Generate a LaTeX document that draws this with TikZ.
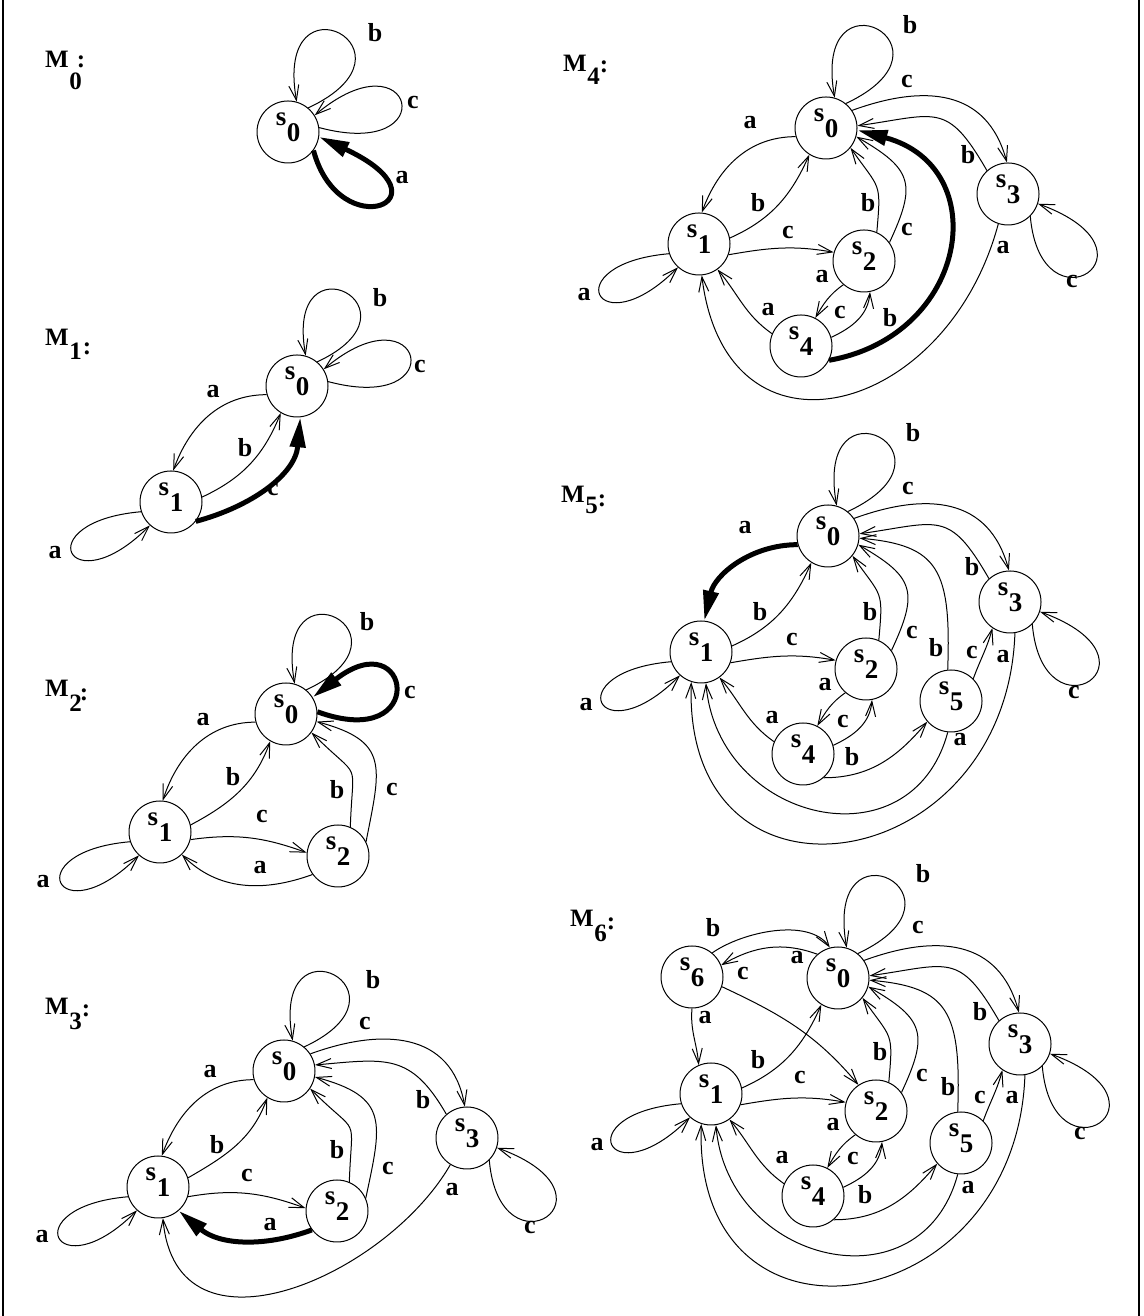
\documentclass[tikz,border=0pt]{standalone}
\usepackage{fontspec}
\setmainfont{Liberation Serif}[BoldFont={Liberation Serif Bold}]
\usetikzlibrary{arrows.meta}
\newcommand\stl[1]{\raisebox{0pt}[12.5pt][25pt]{s\kern0.5pt\raisebox{-16pt}{#1}}}
\newcommand\mlab[4]{M\kern0.5pt\raisebox{-#2}{#1}\kern#4\raisebox{-#3}{:}}
\tikzset{
  stt/.style={circle,draw,line width=1pt,minimum size=62pt,inner sep=0pt,font=\fontsize{27}{27}\selectfont\bfseries},
  lbl/.style={font=\fontsize{26}{26}\selectfont\bfseries,inner sep=0pt},
  ttl/.style={font=\fontsize{25}{25}\selectfont\bfseries,inner sep=0pt,anchor=base west},
  ed/.style={line width=1pt,-{Straight Barb[length=15pt,width=10pt]}},
  thk/.style={line width=5pt,-{Triangle[length=30pt,width=15pt]}},
  frm/.style={line width=2pt},
}
\newcommand\rcommon[1]{%
 \node[stt] (#1s0) at (0,0) {\stl0};
 \node[stt] (#1s1) at (-127,-116) {\stl1};
 \node[stt] (#1s2) at (38,-133) {\stl2};
 \node[stt] (#1s3) at (182,-66) {\stl3};
 \node[stt] (#1s4) at (-25,-218) {\stl4};
 \draw[ed] (#1s0.51) .. controls +(25:135) and +(100:135) .. (#1s0.74);
 \draw[ed] (#1s0.34) to[out=20,in=105,looseness=1.2] (#1s3.92);
 \draw[ed] (#1s3.132) to[out=120,in=8,looseness=1.5] (#1s0.4);
 \draw[ed] (#1s1.11) to[out=24,in=246] (#1s0.238);
 \draw[ed] (#1s1.-20) to[out=10,in=170] (#1s2.164);
 \draw[ed] (#1s2.66) to[out=85,in=-55,looseness=1.5] (#1s0.-39);
 \draw[ed] (#1s2.36) to[out=65,in=-30,looseness=1.5] (#1s0.-16);
 \draw[ed] (#1s2.229) to[out=215,in=60] (#1s4.63);
 \draw[ed] (#1s4.16) to[out=25,in=265] (#1s2.-79);
 \draw[ed] (#1s4.157) to[out=145,in=-50] (#1s1.-54);
 \draw[ed] (#1s1.198) .. controls +(185:115) and +(225:115) .. (#1s1.228);
 \draw[ed] (#1s3.-45) .. controls +(-85:120) and +(-20:140) .. (#1s3.-18);
}
\begin{document}
\begin{tikzpicture}[x=1pt,y=1pt]
\useasboundingbox (0,0) rectangle (1143,1316);
\coordinate (fl1) at (3,0); \coordinate (fl2) at (3,1316);
\coordinate (fr1) at (1139,0); \coordinate (fr2) at (1139,1316);
\draw[frm] (fl1) -- (fl2);
\draw[frm] (fr1) -- (fr2);
% titles
\node[ttl] (t0) at (45,1248) {\mlab{0}{22pt}{0pt}{-5pt}};
\node[ttl] (t1) at (45,970) {\mlab{1}{14pt}{9pt}{1pt}};
\node[ttl] (t2) at (45,619) {\mlab{2}{15pt}{4pt}{-2pt}};
\node[ttl] (t3) at (45,301) {\mlab{3}{15pt}{2pt}{0pt}};
\node[ttl] (t4) at (563,1244) {\mlab{4}{13pt}{1pt}{0pt}};
\node[ttl] (t5) at (561,813) {\mlab{5}{11pt}{4pt}{0pt}};
\node[ttl] (t6) at (570,389) {\mlab{6}{15pt}{3pt}{0pt}};
% ---------------- M0
\begin{scope}[shift={(288,1184)}]
 \node[stt] (m0s0) at (0,0) {\stl0};
 \draw[ed] (m0s0.50) .. controls +(25:135) and +(100:135) .. (m0s0.74);
 \draw[ed] (m0s0.8) .. controls +(-15:130) and +(40:130) .. (m0s0.32);
 \draw[thk] (m0s0.-36) .. controls +(-75:100) and +(-25:150) .. (m0s0.-9);
 \node[lbl] (m0l1) at (87,99) {b};
 \node[lbl] (m0l2) at (125,29) {c};
 \node[lbl] (m0l3) at (114,-46) {a};
\end{scope}
% ---------------- M1
\begin{scope}[shift={(297,930)}]
 \node[stt] (m1s0) at (0,0) {\stl0};
 \node[stt] (m1s1) at (-126,-116) {\stl1};
 \draw[ed] (m1s0.50) .. controls +(25:125) and +(100:125) .. (m1s0.74);
 \draw[ed] (m1s0.8) .. controls +(-15:130) and +(40:130) .. (m1s0.32);
 \draw[ed] (m1s0.196) to[out=180,in=70] (m1s1.86);
 \draw[ed] (m1s1.9) to[out=25,in=248] (m1s0.239);
 \draw[thk] (m1s1.-38) to[out=15,in=265] (m1s0.-84);
 \draw[ed] (m1s1.198) .. controls +(185:115) and +(225:115) .. (m1s1.228);
 \node[lbl] (m1l1) at (83,88) {b};
 \node[lbl] (m1l2) at (123,19) {c};
 \node[lbl] (m1l3) at (-84,-6) {a};
 \node[lbl] (m1l4) at (-52,-62) {b};
 \node[lbl] (m1l5) at (-24,-104) {c};
 \node[lbl] (m1l6) at (-242,-167) {a};
\end{scope}
% ---------------- M2
\begin{scope}[shift={(286,602)}]
 \node[stt] (m2s0) at (0,0) {\stl0};
 \node[stt] (m2s1) at (-126,-118) {\stl1};
 \node[stt] (m2s2) at (52,-142) {\stl2};
 \draw[ed] (m2s0.50) .. controls +(25:130) and +(100:130) .. (m2s0.74);
 \draw[thk] (m2s0.4) .. controls +(-20:120) and +(38:125) .. (m2s0.32);
 \draw[ed] (m2s0.195) to[out=180,in=72] (m2s1.85);
 \draw[ed] (m2s1.13) to[out=28,in=250] (m2s0.240);
 \draw[ed] (m2s1.-14) to[out=8,in=160] (m2s2.174);
 \draw[ed] (m2s2.216) to[out=200,in=-45] (m2s1.-46);
 \draw[ed] (m2s2.67) to[out=88,in=-45,looseness=1.8] (m2s0.-36);
 \draw[ed] (m2s2.27) to[out=79,in=-15,looseness=1.5] (m2s0.-14);
 \draw[ed] (m2s1.198) .. controls +(185:115) and +(225:115) .. (m2s1.228);
 \node[lbl] (m2l1) at (81,92) {b};
 \node[lbl] (m2l2) at (124,21) {c};
 \node[lbl] (m2l3) at (-83,-6) {a};
 \node[lbl] (m2l4) at (-53,-63) {b};
 \node[lbl] (m2l5) at (-24,-103) {c};
 \node[lbl] (m2l6) at (-26,-154) {a};
 \node[lbl] (m2l7) at (51,-76) {b};
 \node[lbl] (m2l8) at (106,-76) {c};
 \node[lbl] (m2l9) at (-243,-168) {a};
\end{scope}
% ---------------- M3
\begin{scope}[shift={(284,245)}]
 \node[stt] (m3s0) at (0,0) {\stl0};
 \node[stt] (m3s1) at (-126,-116) {\stl1};
 \node[stt] (m3s2) at (53,-140) {\stl2};
 \node[stt] (m3s3) at (183,-67) {\stl3};
 \draw[ed] (m3s0.50) .. controls +(25:130) and +(100:130) .. (m3s0.74);
 \draw[ed] (m3s0.33) to[out=20,in=100,looseness=1.2] (m3s3.94);
 \draw[ed] (m3s3.131) to[out=120,in=5,looseness=1.3] (m3s0.11);
 \draw[ed] (m3s0.196) to[out=180,in=70] (m3s1.83);
 \draw[ed] (m3s1.17) to[out=30,in=250] (m3s0.238);
 \draw[ed] (m3s1.-18) to[out=10,in=160] (m3s2.175);
 \draw[thk] (m3s2.217) to[out=200,in=-40] (m3s1.-49);
 \draw[ed] (m3s2.67) to[out=88,in=-45,looseness=1.8] (m3s0.-34);
 \draw[ed] (m3s2.24) to[out=78,in=-15,looseness=1.5] (m3s0.-11);
 \draw[ed] (m3s3.238) .. controls +(240:130) and +(-85:150) .. (m3s1.-81);
 \draw[ed] (m3s1.198) .. controls +(185:115) and +(225:115) .. (m3s1.228);
 \draw[ed] (m3s3.-45) .. controls +(-85:120) and +(-20:140) .. (m3s3.-18);
 \node[lbl] (m3l1) at (89,91) {b};
 \node[lbl] (m3l2) at (81,48) {c};
 \node[lbl] (m3l3) at (139,-29) {b};
 \node[lbl] (m3l4) at (-74,-1) {a};
 \node[lbl] (m3l5) at (-67,-74) {b};
 \node[lbl] (m3l6) at (-37,-104) {c};
 \node[lbl] (m3l7) at (-14,-154) {a};
 \node[lbl] (m3l8) at (53,-79) {b};
 \node[lbl] (m3l9) at (104,-97) {c};
 \node[lbl] (m3l10) at (168,-119) {a};
 \node[lbl] (m3l11) at (-242,-166) {a};
 \node[lbl] (m3l12) at (246,-156) {c};
\end{scope}
% ---------------- M4
\begin{scope}[shift={(826,1188)}]
 \rcommon{m4}
 \draw[ed] (m4s0.196) to[out=180,in=70] (m4s1.85);
 \draw[thk] (m4s4.-27) .. controls +(10:142) and +(-15:142) .. (m4s0.-4);
 \draw[ed] (m4s3.252) .. controls +(255:200) and +(-83:200) .. (m4s1.-85);
 \node[lbl] (m4l1) at (84,103) {b};
 \node[lbl] (m4l2) at (81,46) {c};
 \node[lbl] (m4l3) at (-76,5) {a};
 \node[lbl] (m4l4) at (-68,-75) {b};
 \node[lbl] (m4l5) at (-38,-105) {c};
 \node[lbl] (m4l6) at (42,-75) {b};
 \node[lbl] (m4l7) at (81,-102) {c};
 \node[lbl] (m4l8) at (142,-27) {b};
 \node[lbl] (m4l9) at (-4,-149) {a};
 \node[lbl] (m4l10) at (14,-185) {c};
 \node[lbl] (m4l11) at (-58,-182) {a};
 \node[lbl] (m4l12) at (64,-190) {b};
 \node[lbl] (m4l13) at (177,-120) {a};
 \node[lbl] (m4l14) at (-242,-167) {a};
 \node[lbl] (m4l15) at (246,-154) {c};
\end{scope}
% ---------------- M5
\begin{scope}[shift={(828,780)}]
 \rcommon{m5}
 \node[stt] (m5s5) at (123,-165) {\stl5};
 \draw[thk] (m5s0.196) to[out=180,in=77] (m5s1.84);
 \draw[ed] (m5s5.96) .. controls +(88:100) and +(-5:80) .. (m5s0.-4);
 \draw[ed] (m5s5.45) to[out=70,in=255] (m5s3.236);
 \draw[ed] (m5s4.-49) to[out=0,in=230] (m5s5.221);
 \draw[ed] (m5s5.264) .. controls +(255:140) and +(-85:140) .. (m5s1.-81);
 \draw[ed] (m5s3.-81) .. controls +(268:246) and +(268:246) .. (m5s1.252);
 \node[lbl] (m5l1) at (85,103) {b};
 \node[lbl] (m5l2) at (80,47) {c};
 \node[lbl] (m5l3) at (-83,8) {a};
 \node[lbl] (m5l4) at (-68,-76) {b};
 \node[lbl] (m5l5) at (-36,-104) {c};
 \node[lbl] (m5l6) at (42,-76) {b};
 \node[lbl] (m5l7) at (84,-97) {c};
 \node[lbl] (m5l8) at (144,-31) {b};
 \node[lbl] (m5l9) at (108,-112) {b};
 \node[lbl] (m5l10) at (144,-117) {c};
 \node[lbl] (m5l11) at (175,-121) {a};
 \node[lbl] (m5l12) at (-3,-149) {a};
 \node[lbl] (m5l13) at (15,-186) {c};
 \node[lbl] (m5l14) at (-56,-182) {a};
 \node[lbl] (m5l15) at (24,-221) {b};
 \node[lbl] (m5l16) at (132,-204) {a};
 \node[lbl] (m5l17) at (-242,-169) {a};
 \node[lbl] (m5l18) at (246,-157) {c};
\end{scope}
% ---------------- M6
\begin{scope}[shift={(838,338)}]
 \rcommon{m6}
 \node[stt] (m6s5) at (123,-165) {\stl5};
 \node[stt] (m6s6) at (-146,1) {\stl6};
 \draw[ed] (m6s5.96) .. controls +(88:100) and +(-5:80) .. (m6s0.-4);
 \draw[ed] (m6s5.45) to[out=70,in=255] (m6s3.236);
 \draw[ed] (m6s4.-49) to[out=0,in=230] (m6s5.221);
 \draw[ed] (m6s5.264) .. controls +(255:140) and +(-85:140) .. (m6s1.-81);
 \draw[ed] (m6s3.-81) .. controls +(268:246) and +(268:246) .. (m6s1.252);
 \draw[ed] (m6s6.50) to[out=35,in=125,looseness=0.8] (m6s0.105);
 \draw[ed] (m6s0.131) to[out=160,in=30] (m6s6.22);
 \draw[ed] (m6s6.-18) to[out=-25,in=130] (m6s2.124);
 \draw[ed] (m6s6.270) to[out=265,in=95] (m6s1.113);
 \node[lbl] (m6l1) at (85,104) {b};
 \node[lbl] (m6l2) at (80,50) {c};
 \node[lbl] (m6l3) at (-125,50) {b};
 \node[lbl] (m6l4) at (-41,20) {a};
 \node[lbl] (m6l5) at (-95,4) {c};
 \node[lbl] (m6l6) at (-133,-40) {a};
 \node[lbl] (m6l7) at (-80,-82) {b};
 \node[lbl] (m6l8) at (-38,-99) {c};
 \node[lbl] (m6l9) at (42,-74) {b};
 \node[lbl] (m6l10) at (84,-97) {c};
 \node[lbl] (m6l11) at (142,-34) {b};
 \node[lbl] (m6l12) at (110,-109) {b};
 \node[lbl] (m6l13) at (142,-119) {c};
 \node[lbl] (m6l14) at (174,-120) {a};
 \node[lbl] (m6l15) at (-5,-147) {a};
 \node[lbl] (m6l16) at (15,-180) {c};
 \node[lbl] (m6l17) at (-56,-180) {a};
 \node[lbl] (m6l18) at (27,-217) {b};
 \node[lbl] (m6l19) at (130,-210) {a};
 \node[lbl] (m6l20) at (-241,-167) {a};
 \node[lbl] (m6l21) at (242,-155) {c};
\end{scope}
\end{tikzpicture}
\end{document}
